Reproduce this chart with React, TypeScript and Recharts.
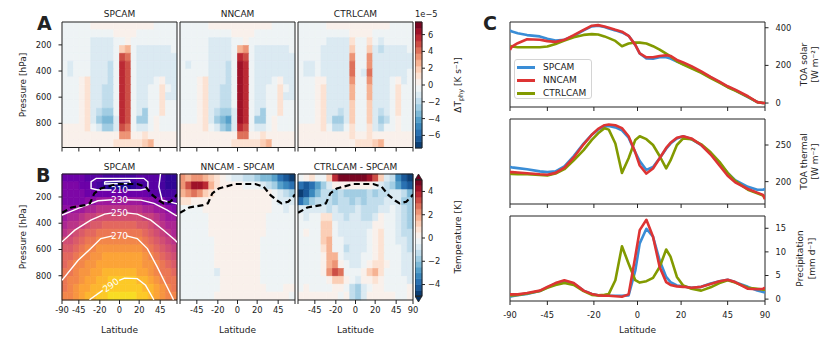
import React from 'react';
import {
  ComposedChart,
  LineChart,
  Line,
  XAxis,
  YAxis,
  ReferenceArea,
  ReferenceDot,
} from 'recharts';

const FONT = '"DejaVu Sans", sans-serif';
const INK = '#222222';

// latitude axis is linear in sin(lat)
const latTicks = [-90, -45, -20, 0, 20, 45, 90];
const pressureTicks = [200, 400, 600, 800];

// contourf grid: 20 columns in sin(lat), 16 pressure rows [hPa]
const colEdges = [-1, -0.9, -0.8, -0.7, -0.6, -0.5, -0.4, -0.3, -0.2, -0.1, 0, 0.1, 0.2, 0.3, 0.4, 0.5, 0.6, 0.7, 0.8, 0.9, 1];
const rowEdges = [25, 85, 145, 205, 265, 325, 385, 445, 505, 565, 625, 685, 745, 805, 865, 925, 985];

// colour levels of the two colorbars
const heatLevels = [-7.5, -6.75, -6, -5.25, -4.5, -3.75, -3, -2.25, -1.5, -0.75, 0, 0.75, 1.5, 2.25, 3, 3.75, 4.5, 5.25, 6, 6.75, 7.5];
const diffLevels = [-5, -4.5, -4, -3.5, -3, -2.5, -2, -1.5, -1, -0.5, 0, 0.5, 1, 1.5, 2, 2.5, 3, 3.5, 4, 4.5, 5];
const heatTicks = [-6, -4, -2, 0, 2, 4, 6];
const diffTicks = [-4, -2, 0, 2, 4];

// A: heating rate bands (a..j = -1..-10, 1..9,# = +1..+10)
const heatSP = [
  'aaaaa11111111111aaaa',
  'aaaaaaaaa1111aaaaaaa',
  'aaaaabbbbaa1aaaaaaaa',
  'aaaaabbbba34abbbbbba',
  'aaaaabbbba76abbbbbbb',
  'abaaabbbca87abbbbbbb',
  'abaaabbbca87abbbbbbb',
  'aaa12bbbca87abbba1bb',
  'aaa12bbcca87abbaa2ab',
  'aaa12bbcca87abbaa2bb',
  'aaa12bbcca87abbaa2aa',
  'aaa12bcdda87abdaa2aa',
  'aaa12bdeeb87adda1aaa',
  '11112abddb76abba1aaa',
  '11111111115511211111',
  '11111111122222341111',
];
const heatNN = [
  'aaaaa11111111111aaaa',
  'aaaaaaaaa1111aaaaaaa',
  'aaaaabbbbaa1aaaaaaaa',
  'aaaaabbbba45abbbbbba',
  'aaaaabbbba87abbbbbbb',
  'abaaabbbca98abbbbbbb',
  'aaaaabbbca98abbbbbbb',
  'aaa12bbbca98abbba1bb',
  'aaa12bbcca98abbaa2ab',
  'aaa12bbcca98abbaa2bb',
  'aaa12bbcca98abbaa2aa',
  'aaa12bcddb98abdaa2aa',
  'aaa12bdefb98adda1aaa',
  '11112abdeb87abba1aaa',
  '11111111116611211111',
  '11111111122222341111',
];
const heatCTRL = [
  'aaaaa11111111111aaaa',
  'aaaaaaaaa1111aaaaaaa',
  'aaaaabbbb2aa2abaaaaa',
  'aaaabbbbb3aa3bcbbbba',
  'aaaabbbbb5aa5bbbbbbb',
  'abbabbbbb6aa5bbbbbbb',
  'abbabbbbb6ab6bbbbbba',
  'aaa11bbbb5aa5bbba1ba',
  'aaa12bbbb4aa4bbba2aa',
  'aaa12bbbb4aa4bbba2aa',
  'aaa12bbbb3aa3bbba2aa',
  'aaa12bbcb3aa3bcba2aa',
  'aaa12bddb3aa3bdca1aa',
  '11112acca2aa2bcaa1aa',
  '11111111121121111111',
  '11111111112223411111',
];

// B: SPCAM temperature, 5 K bands from 195 K (A) to 305 K (V)
const tempSP = [
  'EEEEDDDCCCCCCDDDDCBB',
  'FFFEEDCBAAAABCCDDCBB',
  'FFFFEEEEEEEEEEEDDCCC',
  'FFFFGGHHHHHHHHGGFFDD',
  'GGHHIIJJJJJJJJIIHHGF',
  'HIIJKKLLLLLLLLKKJIHH',
  'IJJKLMMNNNNNNMMLKJII',
  'JKLMNNOOOOOOOONMLKJI',
  'LLMNOOPPPPPPPPONMLKJ',
  'MMNOPPQQQQQQQQPONMLK',
  'NNOPPQQRRRRRRRQPONML',
  'NOPPQQRRRRRRRRQQPONM',
  'OOPQQRRSSSSSSRRQPOON',
  'OPPQRRSSTTTTTSSRQPOO',
  'OPQRRSSTTTTTTTSSRQPO',
  'PPQRSSTTUUUUUTTSRQPP',
];
// B: temperature differences, 0.5 K bands
const diffNN = [
  '54554321abbccdeefhij',
  '57998421111aaabcdfgh',
  '4565321111111111abcd',
  '2211111111111111abbb',
  'aaaa111111111111aaba',
  'aaaaa1111111111aaaaa',
  'aaaaa1111111111aaaaa',
  'aaaaa1111111111aaaaa',
  'aaaaaa11111111aaaaaa',
  'aaaaaa11111111aaaaaa',
  'aaaaaa11111111aaaaaa',
  'aaaaaa11111111aaaaaa',
  'aaaaaab1111111aaaaaa',
  'aaaaaaa1111111aaaaaa',
  'aaaaaaa11111111aaa11',
  'aaaaaa1111111111111a',
];
const diffCTRL = [
  'a12aa38#####973bcgij',
  'hihfdb1111111abcdfhi',
  'jigeccdcddddcdccbbce',
  'hfdcccdccdcdcccbbbdd',
  'bbbbbcbcccbcccbbabcd',
  'abaa22bbcbbccb1aabcd',
  'aaaa33abbbbbb11aabcd',
  'a1aa33abbbbba12aabcc',
  'aaaa34aabbbba12aabbc',
  'aaaa24aacbbba12aaabc',
  'aaaa144abbbaa12aaabb',
  'aaaa1451abba1221aabb',
  'aaaa1576aaa1342aaabb',
  'aaaaa1331ab1121aaaab',
  'a1aaaa11acdba11aaaa1',
  '1111111a1cdb11111aa1',
];

// tropopause (lat, hPa)
const tropopause: ([number, number] | null)[] = [
  [-90, 321], [-57, 280], [-37, 262], [-31, 249], [-26, 173], [-19, 135], [-2, 101],
  [18, 101], [27, 122], [35, 186], [44, 229], [50, 249], [62, 236], [76, 198], [90, 180],
];
// white temperature contours of SPCAM (lat, hPa), null = label gap
const iso200: ([number, number] | null)[] = [[-15, 84], [10, 76], [11, 96], [-15, 101], [-15, 84]];
const iso210: ([number, number] | null)[] = [
  [-8, 147], [-22, 147], [-29.6, 135], [-29.6, 84], [-24, 58], [25, 58], [29.6, 84], [29.6, 135], [21.6, 147], [8, 147],
];
const iso210n: ([number, number] | null)[] = [[45.5, 25], [43.2, 122], [47.8, 224], [76, 249], [90, 252]];
const iso230: ([number, number] | null)[] = [
  [-90, 338], [-46, 287], [-22, 229], [-7, 221], null, [7, 221], [22, 224], [37, 249], [56, 300], [76, 338], [90, 345],
];
const iso250: ([number, number] | null)[] = [
  [-90, 542], [-51, 453], [-30, 377], [-15, 331], [-7, 321], null, [7, 321], [18, 331], [33, 377], [50, 453], [76, 530], [90, 545],
];
const iso270: ([number, number] | null)[] = [
  [-90, 835], [-46, 682], [-30, 593], [-19, 517], [-7, 496], null, [7, 496], [18, 517], [29, 593], [41, 733], [56, 886], [70, 983],
];
const iso290: ([number, number] | null)[] = [
  [-31.5, 983], [-17, 912], null, [-0.3, 835], [5, 818], [18, 822], [27, 873], [36.7, 983],
];
const isoLabels = [
  { lat: 0, p: 148, text: '210', angle: 0 },
  { lat: 0, p: 222, text: '230', angle: 0 },
  { lat: 0, p: 321, text: '250', angle: 0 },
  { lat: 0, p: 496, text: '270', angle: 0 },
  { lat: -8.6, p: 873, text: '290', angle: -36 },
];

// C: zonal means
const lats = [-90, -80, -70, -60, -50, -45, -40, -35, -30, -25, -21, -18, -15, -13, -10, -7, -4, -1, 1, 4, 7, 10, 13, 15, 18, 21, 25, 30, 35, 40, 45, 50, 60, 70, 80, 90];
const solarSP = [386, 380, 371, 361, 354, 341, 332, 336, 357, 386, 407, 411, 404, 396, 386, 375, 357, 309, 264, 237, 236, 243, 243, 236, 220, 207, 189, 163, 136, 111, 86, 68, 32, 5, 0, 0];
const solarNN = [282, 300, 318, 339, 336, 329, 325, 336, 361, 389, 411, 414, 407, 400, 389, 379, 357, 309, 264, 243, 243, 250, 254, 250, 229, 216, 196, 168, 139, 114, 89, 71, 36, 5, 0, 0];
const solarCTRL = [305, 300, 296, 296, 296, 300, 314, 332, 350, 362, 366, 364, 354, 345, 330, 302, 316, 322, 321, 316, 302, 284, 262, 248, 222, 204, 184, 160, 133, 108, 84, 66, 33, 5, 0, 0];
const thermalSP = [220, 219.5, 218.5, 217, 214, 213, 214, 221, 235, 252, 264, 271, 275, 276, 274, 270, 260, 240, 228, 216, 220, 232, 245, 252, 259, 262, 258, 250, 238, 225, 212, 202, 193, 189, 189, 190];
const thermalNN = [213, 213, 212.5, 211.5, 210, 209.5, 212, 219, 233, 251, 264, 272, 277, 278, 277, 273, 262, 240, 222, 211, 218, 232, 246, 253, 260, 262, 259, 250, 237, 222, 208, 199, 190, 185, 182, 176];
const thermalCTRL = [211, 210.5, 210, 210, 209, 208.5, 211, 217, 229, 243, 257, 266, 273, 271, 252, 212, 232, 257, 262, 258, 250, 235, 218, 229, 250, 259, 258, 251, 240, 227, 212, 201, 189, 184, 181, 177];
const precipSP = [0.5, 0.6, 0.8, 1.1, 1.7, 2.5, 3.3, 3.8, 3.3, 1.8, 1.1, 0.8, 0.7, 0.7, 0.7, 0.7, 0.8, 6, 11.8, 14.9, 13.2, 8.2, 4.7, 3.6, 2.9, 2.7, 2.4, 2.6, 3.3, 3.8, 4.1, 3.6, 2.6, 1.8, 1.5, 1.4];
const precipNN = [1.0, 1.0, 1.0, 1.3, 1.8, 2.6, 3.4, 4.0, 3.4, 1.8, 1.1, 0.8, 0.7, 0.7, 0.6, 0.5, 1.0, 9, 14.6, 16.8, 13.2, 6.8, 3.6, 3.0, 2.7, 2.6, 2.4, 2.6, 3.2, 3.8, 4.1, 3.6, 2.2, 2.1, 2.2, 2.4];
const precipCTRL = [0.8, 0.8, 0.9, 1.2, 1.7, 2.4, 3.0, 3.4, 3.0, 1.7, 0.9, 0.8, 0.9, 1.1, 4.0, 11.2, 7.5, 4.0, 3.5, 3.8, 4.5, 6.8, 10.5, 9.0, 4.7, 2.9, 2.2, 1.8, 2.5, 3.4, 4.0, 3.5, 2.4, 2.2, 2.0, 2.0];

const series = [
  { name: 'SPCAM', key: 'sp', color: '#3a8dd6' },
  { name: 'NNCAM', key: 'nn', color: '#dd3434' },
  { name: 'CTRLCAM', key: 'ctrl', color: '#829a00' },
];
const titlesA = ['SPCAM', 'NNCAM', 'CTRLCAM'];
const titlesB = ['SPCAM', 'NNCAM - SPCAM', 'CTRLCAM - SPCAM'];

const RDBU_R = ['#053061', '#2166ac', '#4393c3', '#92c5de', '#d1e5f0', '#f7f7f7', '#fddbc7', '#f4a582', '#d6604d', '#b2182b', '#67001f'];
const PLASMA = ['#0d0887', '#41049d', '#6a00a8', '#8f0da4', '#b12a90', '#cc4778', '#e16462', '#f2844b', '#fca636', '#fcce25', '#f0f921'];

const sinLat = (d: number) => Math.sin((d * Math.PI) / 180);
const toLat = (v: number) => Math.round((Math.asin(Math.max(-1, Math.min(1, v))) * 180) / Math.PI);

function rgb(h: string) {
  return [1, 3, 5].map((i) => parseInt(h.slice(i, i + 2), 16));
}
function sampleMap(stops: string[], t: number) {
  const tt = Math.min(1, Math.max(0, t)) * (stops.length - 1);
  const i = Math.min(stops.length - 2, Math.floor(tt));
  const f = tt - i;
  const a = rgb(stops[i]);
  const b = rgb(stops[i + 1]);
  const c = a.map((v, k) => Math.round(v + (b[k] - v) * f));
  return `rgb(${c[0]},${c[1]},${c[2]})`;
}
const divColor = (ch: string) => {
  const k = ch === '#' ? 10 : ch >= '1' && ch <= '9' ? Number(ch) : -(ch.charCodeAt(0) - 96);
  const idx = k < 0 ? 10 + k : 9 + k;
  return sampleMap(RDBU_R, (idx + 0.5) / 20);
};
const tempColor = (ch: string) => sampleMap(PLASMA, (ch.charCodeAt(0) - 65 + 0.5) / 22);

const tickText = { fill: INK, fontSize: 8.3, fontFamily: FONT };

type Pts = ([number, number] | null)[];
const toXY = (pts: Pts) => pts.map((p) => (p ? { x: sinLat(p[0]), y: p[1] } : { x: 0, y: null }));

type PanelProps = {
  x0: number;
  y0: number;
  w: number;
  h: number;
  grid: string[];
  color: (ch: string) => string;
  showY: boolean;
  xLabels: number[];
  lines?: { pts: Pts; stroke: string; width: number; dash?: string }[];
  labels?: { lat: number; p: number; text: string; angle: number }[];
};

const HeatPanel = ({ x0, y0, w, h, grid, color, showY, xLabels, lines = [], labels = [] }: PanelProps) => {
  const cells: React.ReactNode[] = [];
  grid.forEach((row, r) =>
    row.split('').forEach((ch, c) => {
      const col = color(ch);
      cells.push(
        <ReferenceArea
          key={`c${r}-${c}`}
          x1={colEdges[c]}
          x2={colEdges[c + 1]}
          y1={rowEdges[r]}
          y2={rowEdges[r + 1]}
          fill={col}
          fillOpacity={1}
          stroke={col}
          strokeWidth={0.7}
        />
      );
    })
  );
  return (
    <div style={{ position: 'absolute', left: x0 - 50, top: y0 - 10 }}>
      <ComposedChart width={w + 62} height={h + 40} margin={{ top: 10, right: 12, bottom: 0, left: 0 }}>
        <XAxis
          type="number"
          dataKey="x"
          domain={[-1, 1]}
          allowDataOverflow
          ticks={latTicks.map(sinLat)}
          interval={0}
          axisLine={false}
          tickLine={{ stroke: INK }}
          tickSize={4}
          tickMargin={3}
          height={30}
          tick={tickText}
          tickFormatter={(v: number) => (xLabels.includes(toLat(v)) ? String(toLat(v)) : '')}
        />
        <YAxis
          type="number"
          dataKey="y"
          domain={[rowEdges[0], rowEdges[rowEdges.length - 1]]}
          reversed
          allowDataOverflow
          width={50}
          ticks={pressureTicks}
          axisLine={false}
          tickLine={showY ? { stroke: INK } : false}
          tick={showY ? tickText : false}
          tickSize={3.5}
          tickMargin={7}
        />
        {cells}
        {lines.map((l, i) => (
          <Line
            key={`l${i}`}
            data={toXY(l.pts)}
            dataKey="y"
            type="linear"
            stroke={l.stroke}
            strokeWidth={l.width}
            strokeDasharray={l.dash}
            dot={false}
            activeDot={false}
            connectNulls={false}
            isAnimationActive={false}
          />
        ))}
        {labels.map((l, i) => (
          <ReferenceDot
            key={`t${i}`}
            x={sinLat(l.lat)}
            y={l.p}
            r={0}
            shape={(s: any) => (
              <text
                x={s.cx}
                y={s.cy}
                fill="#ffffff"
                fontSize={9}
                fontFamily={FONT}
                textAnchor="middle"
                dominantBaseline="central"
                transform={`rotate(${l.angle} ${s.cx} ${s.cy})`}
              >
                {l.text}
              </text>
            )}
          />
        ))}
        <ReferenceArea x1={-1} x2={1} y1={rowEdges[0]} y2={rowEdges[rowEdges.length - 1]} fill="none" stroke={INK} strokeWidth={1} />
      </ComposedChart>
    </div>
  );
};

const triangle = (up: boolean, fill: string) => (p: any) => {
  const { x, y, width, height } = p;
  const pts = up
    ? `${x},${y + height} ${x + width / 2},${y} ${x + width},${y + height}`
    : `${x},${y} ${x + width},${y} ${x + width / 2},${y + height}`;
  return <polygon points={pts} fill={fill} stroke={INK} strokeWidth={0.8} />;
};

const Colorbar = ({ x0, y0, w, h, levels, ticks, extend }: { x0: number; y0: number; w: number; h: number; levels: number[]; ticks: number[]; extend: boolean }) => {
  const lo = levels[0];
  const hi = levels[levels.length - 1];
  const ext = extend ? (hi - lo) / 20 : 0;
  const n = levels.length - 1;
  return (
    <div style={{ position: 'absolute', left: x0, top: y0 - 6 }}>
      <ComposedChart width={w + 30} height={h + 12} margin={{ top: 6, right: 0, bottom: 6, left: 0 }}>
        <XAxis type="number" dataKey="x" domain={[0, 1]} allowDataOverflow hide />
        <YAxis
          type="number"
          orientation="right"
          domain={[lo - ext, hi + ext]}
          allowDataOverflow
          ticks={ticks}
          width={30}
          axisLine={false}
          tickLine={{ stroke: INK }}
          tickSize={3}
          tickMargin={3}
          tick={tickText}
          tickFormatter={(v: number) => (v < 0 ? `\u2212${Math.abs(v)}` : String(v))}
        />
        {levels.slice(0, n).map((v, i) => {
          const col = sampleMap(RDBU_R, (i + 0.5) / n);
          return <ReferenceArea key={i} x1={0} x2={1} y1={v} y2={levels[i + 1]} fill={col} fillOpacity={1} stroke={col} strokeWidth={0.6} />;
        })}
        {extend && <ReferenceArea x1={0} x2={1} y1={hi} y2={hi + ext} shape={triangle(true, RDBU_R[RDBU_R.length - 1])} />}
        {extend && <ReferenceArea x1={0} x2={1} y1={lo - ext} y2={lo} shape={triangle(false, RDBU_R[0])} />}
        <ReferenceArea x1={0} x2={1} y1={lo} y2={hi} fill="none" stroke={INK} strokeWidth={1} />
      </ComposedChart>
    </div>
  );
};

const LinePanel = ({ y0, h, domain, ticks, sp, nn, ctrl, showX }: { y0: number; h: number; domain: number[]; ticks: number[]; sp: number[]; nn: number[]; ctrl: number[]; showX: boolean }) => {
  const data = lats.map((lat, i) => ({ x: sinLat(lat), sp: sp[i], nn: nn[i], ctrl: ctrl[i] }));
  const order = [series[0], series[2], series[1]];
  return (
    <div style={{ position: 'absolute', left: 495, top: y0 - 5 }}>
      <LineChart width={15 + 255 + 40} height={h + 30} data={data} margin={{ top: 5, right: 0, bottom: 0, left: 15 }}>
        <XAxis
          type="number"
          dataKey="x"
          domain={[-1, 1]}
          allowDataOverflow
          ticks={latTicks.map(sinLat)}
          interval={0}
          axisLine={false}
          tickLine={{ stroke: INK }}
          tickSize={4}
          tickMargin={7}
          height={25}
          tick={tickText}
          tickFormatter={(v: number) => (showX ? String(toLat(v)) : '')}
        />
        <YAxis
          type="number"
          orientation="right"
          domain={domain}
          allowDataOverflow
          ticks={ticks}
          width={40}
          axisLine={false}
          tickLine={{ stroke: INK }}
          tickSize={3.5}
          tickMargin={7}
          tick={tickText}
        />
        {order.map((s) => (
          <Line
            key={s.key}
            dataKey={s.key}
            type="linear"
            stroke={s.color}
            strokeWidth={2.6}
            strokeLinejoin="round"
            dot={false}
            activeDot={false}
            isAnimationActive={false}
          />
        ))}
        <ReferenceArea x1={-1} x2={1} y1={domain[0]} y2={domain[1]} fill="none" stroke={INK} strokeWidth={1} ifOverflow="visible" />
      </LineChart>
    </div>
  );
};

const panelX = [62, 180, 298];
const panelW = 115;
const rowA = { y: 22, h: 125.5 };
const rowB = { y: 174, h: 126 };
const xLabelsB = [
  [-90, -45, -20, 0, 20, 45],
  [-45, -20, 0, 20, 45],
  [-45, -20, 0, 20, 45, 90],
];

const tropoLine = { pts: tropopause, stroke: '#000000', width: 2.2, dash: '6 3.5' };
const whiteLines = [iso200, iso210, iso210n, iso230, iso250, iso270, iso290].map((pts) => ({ pts, stroke: '#ffffff', width: 1.4 }));

const Rot = ({ x, y, children, size = 9 }: { x: number; y: number; children: React.ReactNode; size?: number }) => (
  <text transform={`translate(${x},${y}) rotate(-90)`} textAnchor="middle" fontSize={size}>
    {children}
  </text>
);

export default function App() {
  const heatA = [heatSP, heatNN, heatCTRL];
  const gridsB = [tempSP, diffNN, diffCTRL];
  return (
    <div style={{ position: 'absolute', left: 0, top: 0, width: 830, height: 342, background: '#ffffff', overflow: 'hidden' }}>
      {heatA.map((g, i) => (
        <HeatPanel key={`a${i}`} x0={panelX[i]} y0={rowA.y} w={panelW} h={rowA.h} grid={g} color={divColor} showY={i === 0} xLabels={[]} />
      ))}
      {gridsB.map((g, i) => (
        <HeatPanel
          key={`b${i}`}
          x0={panelX[i]}
          y0={rowB.y}
          w={panelW}
          h={rowB.h}
          grid={g}
          color={i === 0 ? tempColor : divColor}
          showY={i === 0}
          xLabels={xLabelsB[i]}
          lines={i === 0 ? [...whiteLines, tropoLine] : [tropoLine]}
          labels={i === 0 ? isoLabels : []}
        />
      ))}
      <Colorbar x0={415} y0={22} w={7} h={126} levels={heatLevels} ticks={heatTicks} extend={false} />
      <Colorbar x0={415} y0={174} w={7} h={128} levels={diffLevels} ticks={diffTicks} extend />

      <LinePanel y0={22} h={85} domain={[-21, 430.5]} ticks={[0, 200, 400]} sp={solarSP} nn={solarNN} ctrl={solarCTRL} showX={false} />
      <LinePanel y0={119} h={85} domain={[169.5, 285.5]} ticks={[200, 250]} sp={thermalSP} nn={thermalNN} ctrl={thermalCTRL} showX={false} />
      <LinePanel y0={216} h={85} domain={[-0.4, 17.6]} ticks={[0, 5, 10, 15]} sp={precipSP} nn={precipNN} ctrl={precipCTRL} showX />

      <div
        style={{
          position: 'absolute',
          left: 514,
          top: 59,
          width: 76,
          height: 38,
          border: '1px solid #d4d4d4',
          borderRadius: 3,
          background: 'rgba(255,255,255,0.85)',
          fontFamily: FONT,
          fontSize: 9,
          color: INK,
        }}
      >
        {series.map((s, i) => (
          <div key={s.key} style={{ position: 'absolute', left: 2, top: 1 + i * 13, height: 12, display: 'flex', alignItems: 'center' }}>
            <span style={{ display: 'inline-block', width: 18, height: 3, background: s.color, marginRight: 8 }} />
            <span>{s.name}</span>
          </div>
        ))}
      </div>

      <svg width={830} height={342} style={{ position: 'absolute', left: 0, top: 0, pointerEvents: 'none' }} fontFamily={FONT} fill={INK}>
        <text x={37} y={30} fontSize={19} fontWeight="bold">A</text>
        <text x={36} y={182} fontSize={19} fontWeight="bold">B</text>
        <text x={483} y={30} fontSize={19} fontWeight="bold">C</text>
        {titlesA.map((t, i) => (
          <text key={t} x={panelX[i] + panelW / 2} y={17} fontSize={9} textAnchor="middle">{t}</text>
        ))}
        {titlesB.map((t, i) => (
          <text key={t} x={panelX[i] + panelW / 2} y={170} fontSize={9} textAnchor="middle">{t}</text>
        ))}
        {titlesB.map((t, i) => (
          <text key={`lat${i}`} x={panelX[i] + panelW / 2} y={333} fontSize={9} textAnchor="middle">Latitude</text>
        ))}
        <text x={637.5} y={333} fontSize={9} textAnchor="middle">Latitude</text>
        <Rot x={26} y={85}>Pressure [hPa]</Rot>
        <Rot x={26} y={237}>Pressure [hPa]</Rot>
        <text x={415} y={17} fontSize={8.3}>1e{'\u2212'}5</text>
        <Rot x={461} y={85}>
          {'\u0394T'}
          <tspan fontSize={6.5} dy={2}>phy</tspan>
          <tspan dy={-2}> [K s{'\u207B\u00B9'}]</tspan>
        </Rot>
        <Rot x={461} y={237}>Temperature [K]</Rot>
        <Rot x={807} y={64.5}>TOA solar</Rot>
        <Rot x={818} y={64.5}>[W m{'\u207B\u00B2'}]</Rot>
        <Rot x={807} y={161.5}>TOA thermal</Rot>
        <Rot x={818} y={161.5}>[W m{'\u207B\u00B2'}]</Rot>
        <Rot x={803} y={258.5}>Precipitation</Rot>
        <Rot x={815} y={258.5}>[mm d{'\u207B\u00B9'}]</Rot>
      </svg>
    </div>
  );
}
